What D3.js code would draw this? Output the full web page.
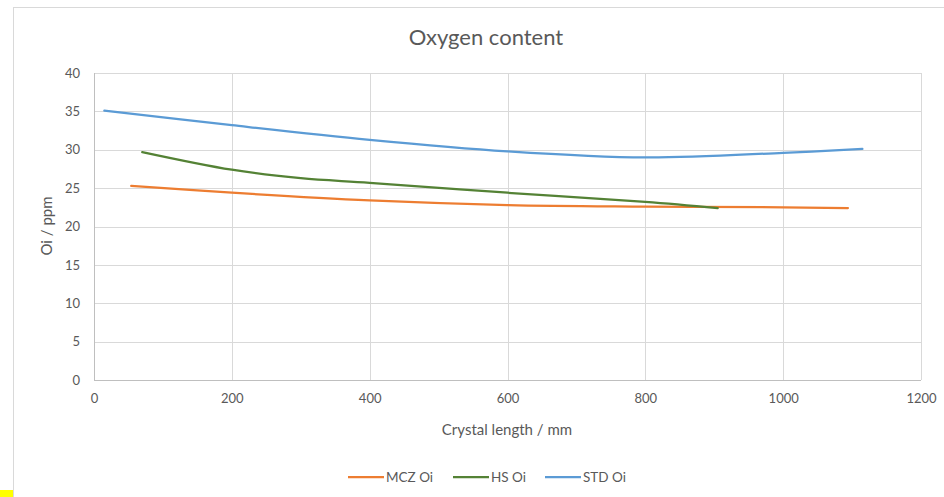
<!DOCTYPE html>
<html><head><meta charset="utf-8">
<script src="https://cdn.jsdelivr.net/npm/d3@7/dist/d3.min.js"></script>
<style>body{margin:0;background:#fff;}svg{display:block;font-family:Lato,"Open Sans",sans-serif;}</style>
</head><body>
<svg id="c" width="944" height="497"></svg>
<script>
const title = "Oxygen content";
const xTitle = "Crystal length / mm";
const yTitle = "Oi / ppm";
const xTicks = [0,200,400,600,800,1000,1200];
const yTicks = [0,5,10,15,20,25,30,35,40];
const seriesNames = ["MCZ Oi","HS Oi","STD Oi"];
const seriesColors = ["#ED7D31","#548235","#5B9BD5"];
const mczX = [54,200,400,600,800,1000,1094];
const mczY = [25.3,24.4,23.4,22.8,22.6,22.5,22.4];
const hsX = [70,200,300,400,600,800,905];
const hsY = [29.7,27.4,26.3,25.7,24.4,23.2,22.4];
const stdX = [15,200,400,600,800,1000,1115];
const stdY = [35.1,33.2,31.3,29.8,29.0,29.6,30.1];

const svg = d3.select("#c");
svg.append("rect").attr("x",13.5).attr("y",7.5).attr("width",940).attr("height",500)
  .attr("fill","#fff").attr("stroke","#d9d9d9");
svg.append("rect").attr("x",0).attr("y",490).attr("width",13).attr("height",7).attr("fill","#ffff00");

const x = d3.scaleLinear().domain([0,1200]).range([94,921]);
const y = d3.scaleLinear().domain([0,40]).range([380,73]);

const g = svg.append("g");
g.selectAll(".hg").data(yTicks).join("line")
  .attr("x1",x(0)).attr("x2",x(1200)).attr("y1",d=>Math.round(y(d))+0.5).attr("y2",d=>Math.round(y(d))+0.5)
  .attr("stroke",d=>d===0?"#bfbfbf":"#d9d9d9").attr("stroke-width",1);
g.selectAll(".vg").data(xTicks).join("line")
  .attr("y1",y(0)).attr("y2",y(40)).attr("x1",d=>Math.round(x(d))+0.5).attr("x2",d=>Math.round(x(d))+0.5)
  .attr("stroke",d=>d===0?"#bfbfbf":"#d9d9d9").attr("stroke-width",1);

const ya = d3.axisLeft(y).tickValues(yTicks).tickFormat(d3.format("d")).tickSize(0).tickPadding(14);
svg.append("g").attr("transform",`translate(${x(0)},0)`).call(ya)
  .call(s=>s.select(".domain").remove())
  .selectAll("text").attr("fill","#595959").style("font-size","13px").style("font-family","Lato,'Open Sans',sans-serif");
const xa = d3.axisBottom(x).tickValues(xTicks).tickFormat(d3.format("d")).tickSize(0).tickPadding(14);
svg.append("g").attr("transform",`translate(0,${y(0)})`).call(xa)
  .call(s=>s.select(".domain").remove())
  .selectAll("text").attr("fill","#595959").style("font-size","13px").style("font-family","Lato,'Open Sans',sans-serif");

svg.append("text").attr("x",486).attr("y",45).attr("text-anchor","middle")
  .attr("fill","#595959").style("font-size","22px").text(title);
svg.append("text").attr("x",507).attr("y",435).attr("text-anchor","middle")
  .attr("fill","#595959").style("font-size","15px").text(xTitle);
svg.append("text").attr("transform","translate(52,226) rotate(-90)").attr("text-anchor","middle")
  .attr("fill","#595959").style("font-size","15px").text(yTitle);

const data = [d3.zip(mczX,mczY), d3.zip(hsX,hsY), d3.zip(stdX,stdY)];
const line = d3.line().x(d=>x(d[0])).y(d=>y(d[1])).curve(d3.curveCatmullRom.alpha(0.5));
data.forEach((pts,i)=>{
  svg.append("path").attr("d",line(pts)).attr("fill","none")
    .attr("stroke",seriesColors[i]).attr("stroke-width",2.25).attr("stroke-linecap","round");
});

const legX = [348,453,545];
seriesNames.forEach((n,i)=>{
  svg.append("line").attr("x1",legX[i]).attr("x2",legX[i]+36).attr("y1",477).attr("y2",477)
    .attr("stroke",seriesColors[i]).attr("stroke-width",2.25);
  svg.append("text").attr("x",legX[i]+38).attr("y",482).attr("fill","#595959")
    .style("font-size","13.5px").text(n);
});
</script>
</body></html>
